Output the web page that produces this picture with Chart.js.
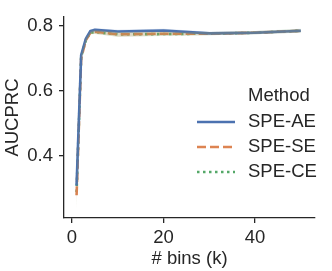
<!DOCTYPE html>
<html>
<head>
<meta charset="utf-8">
<script src="https://cdn.jsdelivr.net/npm/chart.js@4"></script>
<style>
  html, body { margin: 0; padding: 0; background: #fff; }
  #wrap { width: 332px; height: 271px; }
</style>
</head>
<body>
<div id="wrap"><canvas id="myChart"></canvas></div>
<script>
var bins = [1, 2, 3, 4, 5, 10, 20, 30, 40, 50];

var aeMean = [0.31, 0.71, 0.76, 0.784, 0.788, 0.783, 0.786, 0.777, 0.779, 0.785];
var aeLow  = [0.27, 0.70, 0.752, 0.779, 0.783, 0.778, 0.781, 0.772, 0.774, 0.780];
var aeHigh = [0.35, 0.72, 0.768, 0.789, 0.793, 0.788, 0.791, 0.782, 0.784, 0.790];

var seMean = [0.28, 0.70, 0.755, 0.779, 0.782, 0.774, 0.776, 0.776, 0.779, 0.785];
var seLow  = [0.24, 0.69, 0.747, 0.774, 0.776, 0.767, 0.770, 0.771, 0.774, 0.780];
var seHigh = [0.32, 0.71, 0.763, 0.784, 0.788, 0.781, 0.782, 0.781, 0.784, 0.790];

var ceMean = [0.29, 0.705, 0.755, 0.779, 0.781, 0.774, 0.775, 0.776, 0.779, 0.785];
var ceLow  = [0.235, 0.695, 0.747, 0.774, 0.775, 0.767, 0.769, 0.771, 0.774, 0.779];
var ceHigh = [0.33, 0.715, 0.763, 0.784, 0.787, 0.781, 0.781, 0.781, 0.784, 0.791];

var methods = ['SPE-AE', 'SPE-SE', 'SPE-CE'];
var colors = ['rgb(76,114,176)', 'rgb(221,132,82)', 'rgb(85,168,104)'];
var bandColors = ['rgba(76,114,176,0.2)', 'rgba(221,132,82,0.2)', 'rgba(85,168,104,0.2)'];
var dashes = [[], [9, 4], [2.5, 3.5]];

var yTicks = [0.4, 0.6, 0.8];
var xTicks = [0, 20, 40];

function pts(ys) {
    return bins.map(function (b, i) { return { x: b, y: ys[i] }; });
}

var means = [aeMean, seMean, ceMean];
var lows = [aeLow, seLow, ceLow];
var highs = [aeHigh, seHigh, ceHigh];

var datasets = [];
for (var i = 0; i < 3; i++) {
    datasets.push({
        label: methods[i] + ' low',
        data: pts(lows[i]),
        borderWidth: 0,
        pointRadius: 0,
        fill: false
    });
    datasets.push({
        label: methods[i] + ' high',
        data: pts(highs[i]),
        borderWidth: 0,
        pointRadius: 0,
        backgroundColor: bandColors[i],
        fill: '-1'
    });
}
for (var j = 0; j < 3; j++) {
    datasets.push({
        label: methods[j],
        data: pts(means[j]),
        borderColor: colors[j],
        borderWidth: 2.6,
        borderDash: dashes[j],
        pointRadius: 0,
        fill: false,
        tension: 0
    });
}

var font = "'Liberation Sans', Arial, sans-serif";
var ink = '#262626';
var fs = 18.5;

var legendPlugin = {
    id: 'methodLegend',
    afterDraw: function (chart) {
        var c = chart.ctx;
        c.save();
        c.font = fs + 'px ' + font;
        c.fillStyle = ink;
        c.textBaseline = 'middle';
        c.fillText('Method', 248, 96);
        var ys = [122, 147, 172];
        for (var k = 0; k < 3; k++) {
            c.beginPath();
            c.strokeStyle = colors[k];
            c.lineWidth = 2.6;
            c.setLineDash(dashes[k]);
            c.moveTo(197, ys[k]);
            c.lineTo(235, ys[k]);
            c.stroke();
            c.setLineDash([]);
            c.fillText(methods[k], 248, ys[k]);
        }
        c.restore();
    }
};

var ctx = document.getElementById('myChart').getContext('2d');
var chart = new Chart(ctx, {
    type: 'line',
    data: { datasets: datasets },
    options: {
        responsive: true,
        maintainAspectRatio: false,
        animation: false,
        layout: { padding: { top: 13, right: 17, left: 0, bottom: 0 } },
        plugins: {
            legend: { display: false },
            tooltip: { enabled: false }
        },
        scales: {
            x: {
                type: 'linear',
                min: -1.75,
                max: 53.1,
                afterBuildTicks: function (s) { s.ticks = xTicks.map(function (v) { return { value: v }; }); },
                afterFit: function (s) { s.height = 53; },
                border: { display: true, color: ink, width: 1.3 },
                grid: { drawOnChartArea: false, drawTicks: true, tickLength: 5, color: ink, lineWidth: 1.3 },
                ticks: { color: ink, font: { size: fs, family: font }, padding: 4, maxRotation: 0 },
                title: { display: true, text: '# bins (k)', color: ink, font: { size: fs, family: font }, padding: { top: 0, bottom: 1 } }
            },
            y: {
                min: 0.21,
                max: 0.827,
                afterBuildTicks: function (s) { s.ticks = yTicks.map(function (v) { return { value: v }; }); },
                afterFit: function (s) { s.width = 64; },
                border: { display: true, color: ink, width: 1.3 },
                grid: { drawOnChartArea: false, drawTicks: true, tickLength: 5, color: ink, lineWidth: 1.3 },
                ticks: { color: ink, font: { size: fs, family: font }, padding: 6, callback: function (v) { return v.toFixed(1); } },
                title: { display: true, text: 'AUCPRC', color: ink, font: { size: fs, family: font }, padding: { top: 2, bottom: 0 } }
            }
        }
    },
    plugins: [legendPlugin]
});
</script>
</body>
</html>
